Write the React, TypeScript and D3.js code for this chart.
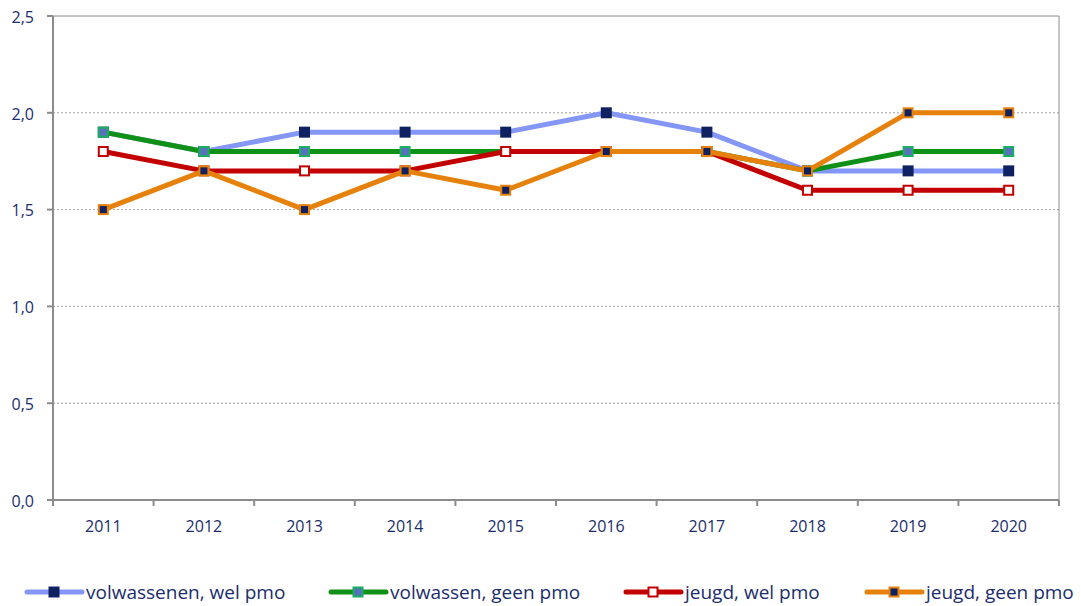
import * as d3 from "d3";

const years = ["2011", "2012", "2013", "2014", "2015", "2016", "2017", "2018", "2019", "2020"];
const volwassenenWel = [1.9, 1.8, 1.9, 1.9, 1.9, 2.0, 1.9, 1.7, 1.7, 1.7];
const volwassenGeen = [1.9, 1.8, 1.8, 1.8, 1.8, 1.8, 1.8, 1.7, 1.8, 1.8];
const jeugdWel = [1.8, 1.7, 1.7, 1.7, 1.8, 1.8, 1.8, 1.6, 1.6, 1.6];
const jeugdGeen = [1.5, 1.7, 1.5, 1.7, 1.6, 1.8, 1.8, 1.7, 2.0, 2.0];
const yTicks = [0, 0.5, 1.0, 1.5, 2.0, 2.5];

const series = [
  { name: "volwassenen, wel pmo", values: volwassenenWel, line: "#8497f6", mFill: "#0f2160", mStroke: "#0f2160", lx: 27 },
  { name: "volwassen, geen pmo", values: volwassenGeen, line: "#0f9118", mFill: "#5a6fc0", mStroke: "#17b060", lx: 331 },
  { name: "jeugd, wel pmo", values: jeugdWel, line: "#c30000", mFill: "#ffffff", mStroke: "#c30000", lx: 626 },
  { name: "jeugd, geen pmo", values: jeugdGeen, line: "#e6820c", mFill: "#0f2160", mStroke: "#e6820c", lx: 867 },
];

const W = 1081, H = 606;
const left = 53, right = 1059, top = 16, bottom = 500;
const textColor = "#1b2d6b";
const font = "'Open Sans', Lato, sans-serif";

export default function App() {
  const x = d3.scaleBand().domain(years).range([left, right]);
  const y = d3.scaleLinear().domain([0, 2.5]).range([bottom, top]);
  const line = d3.line<number>()
    .x((_, i) => (x(years[i]) as number) + x.bandwidth() / 2)
    .y(d => y(d));
  const fmt = (v: number) => v.toFixed(1).replace(".", ",");

  return (
    <svg width={W} height={H} style={{ position: "absolute", left: 0, top: 0 }}>
      <rect x={0} y={0} width={W} height={H} fill="#ffffff" />
      {yTicks.filter(t => t > 0 && t < 2.5).map(t => (
        <line key={t} x1={left} x2={right} y1={y(t)} y2={y(t)} stroke="#a0a0a0" strokeWidth={1} strokeDasharray="2,2" />
      ))}
      <line x1={left} x2={right} y1={top} y2={top} stroke="#8c8c8c" strokeWidth={1} />
      <line x1={right} x2={right} y1={top} y2={bottom} stroke="#8c8c8c" strokeWidth={1} />
      <line x1={left} x2={left} y1={top} y2={bottom} stroke="#8c8c8c" strokeWidth={2} />
      <line x1={left} x2={right} y1={bottom} y2={bottom} stroke="#8c8c8c" strokeWidth={2} />
      {yTicks.map(t => (
        <g key={t}>
          <line x1={left - 6} x2={left} y1={y(t)} y2={y(t)} stroke="#8c8c8c" strokeWidth={2} />
          <text x={34} y={y(t)} dy="0.42em" textAnchor="end" fontFamily={font} fontSize={16} fill={textColor}>{fmt(t)}</text>
        </g>
      ))}
      {years.map((yr, i) => (
        <g key={yr}>
          <line x1={x(yr)} x2={x(yr)} y1={bottom} y2={bottom + 6} stroke="#8c8c8c" strokeWidth={2} />
          <text x={(x(yr) as number) + x.bandwidth() / 2} y={532} textAnchor="middle" fontFamily={font} fontSize={16} fill={textColor}>{yr}</text>
        </g>
      ))}
      <line x1={right} x2={right} y1={bottom} y2={bottom + 6} stroke="#8c8c8c" strokeWidth={2} />
      {series.map(s => (
        <g key={s.name}>
          <path d={line(s.values) || ""} fill="none" stroke={s.line} strokeWidth={5} strokeLinejoin="round" />
          {s.values.map((v, i) => (
            <rect key={i} x={(x(years[i]) as number) + x.bandwidth() / 2 - 4.5} y={y(v) - 4.5} width={9} height={9}
              fill={s.mFill} stroke={s.mStroke} strokeWidth={2} />
          ))}
        </g>
      ))}
      {series.map(s => (
        <g key={s.name}>
          <line x1={s.lx} x2={s.lx + 55} y1={592} y2={592} stroke={s.line} strokeWidth={5} strokeLinecap="round" />
          <rect x={s.lx + 27 - 4.5} y={592 - 4.5} width={9} height={9} fill={s.mFill} stroke={s.mStroke} strokeWidth={2} />
          <text x={s.lx + 59} y={592} dy="0.35em" fontFamily={font} fontSize={19} fill={textColor}>{s.name}</text>
        </g>
      ))}
    </svg>
  );
}
